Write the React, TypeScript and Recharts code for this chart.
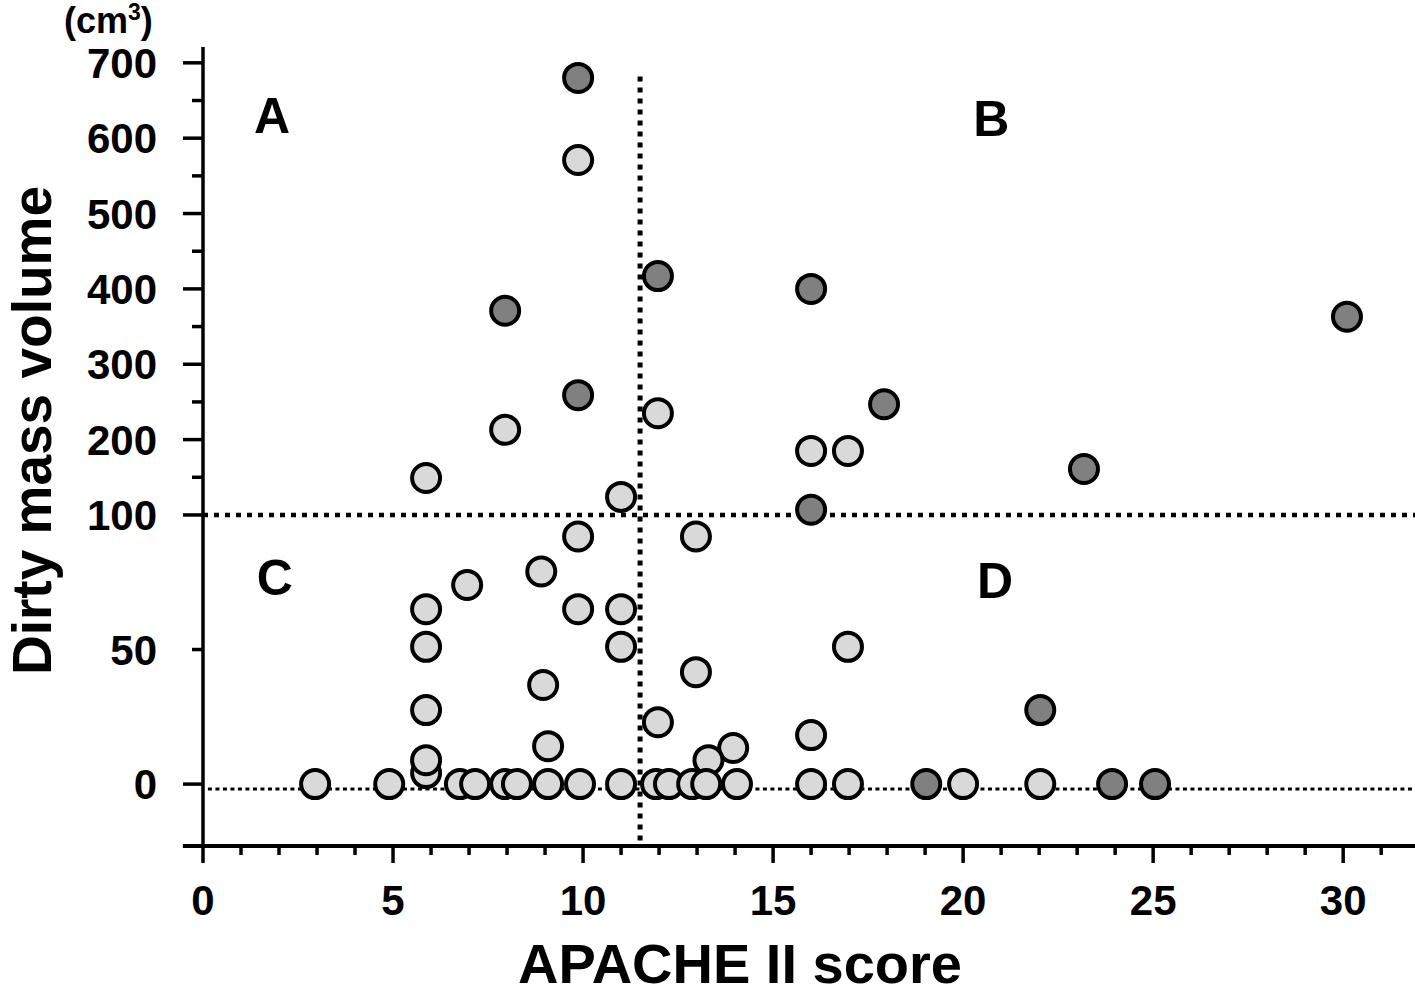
import React from 'react';
import { ScatterChart, Scatter, XAxis, YAxis, ReferenceLine, ReferenceDot, Label } from 'recharts';

// APACHE II score (x) vs dirty mass volume in cm3 (y), broken y scale above 100

// light grey patients
const lightScores = [
  9.87, 7.95, 5.87, 11.0, 11.97, 16.0, 16.97,
  9.87, 12.97, 8.9, 6.95, 5.87, 9.87, 11.0, 5.87, 11.0, 16.97, 12.97, 8.95, 5.87,
  11.97, 9.08, 13.95, 16.0, 13.3, 5.87, 5.87,
  2.95, 4.9, 6.76, 7.16, 7.95, 8.26, 9.08, 9.92, 11.0, 11.92, 12.26, 12.87, 13.24, 14.05,
  16.0, 16.97, 20.0, 22.03,
];
const lightVolumes = [
  571, 213, 149, 124, 235, 185, 185,
  92, 92, 79, 74, 65, 65, 65, 51, 51, 51, 41.6, 36.8, 27.5,
  23, 14.1, 13.4, 18.2, 8.9, 4.1, 8.9,
  0, 0, 0, 0, 0, 0, 0, 0, 0, 0, 0, 0, 0, 0,
  0, 0, 0, 0,
];

// dark grey patients
const darkScores = [9.87, 11.97, 16.0, 7.95, 9.87, 17.92, 30.1, 23.18, 16.0, 22.03, 19.03, 23.92, 25.05];
const darkVolumes = [680, 417, 400, 371, 259, 247, 363, 161, 107, 27.5, 0, 0, 0];

const xTicks = [0, 1, 2, 3, 4, 5, 6, 7, 8, 9, 10, 11, 12, 13, 14, 15, 16, 17, 18, 19, 20, 21, 22, 23, 24, 25, 26, 27, 28, 29, 30, 31];
const xLabels = [0, 5, 10, 15, 20, 25, 30];

const yTicks = [0, 50, 100, 150, 200, 250, 300, 350, 400, 450, 500, 550, 600, 650, 700];
const yLongTicks = [0, 100, 200, 300, 400, 500, 600, 700];
const yLabels = [0, 50, 100, 200, 300, 400, 500, 600, 700];

const quadrants = [
  { text: 'A', x: 1.82, v: 631 },
  { text: 'B', x: 20.74, v: 627 },
  { text: 'C', x: 1.89, v: 77 },
  { text: 'D', x: 20.84, v: 75.8 },
];

const X_MIN = 0;
const X_MAX = 31.89;
const Y_MIN = -23;
const Y_MAX = 721;
const CUTOFF_SCORE = 11.5;
const CUTOFF_VOLUME = 100;
const CUTOFF_LINE_TOP = 682;
const ZERO_LINE = -1.8;

// y axis is linear up to 100, compressed above it
const BREAK = 100;
const UPPER_RATIO = 0.28;
const toAxis = (v: number) => (v <= BREAK ? v : BREAK + (v - BREAK) * UPPER_RATIO);
const fromAxis = (t: number) => (t <= BREAK ? t : BREAK + (t - BREAK) / UPPER_RATIO);

const lightData = lightScores.map((x, i) => ({ x, y: toAxis(lightVolumes[i]) }));
const darkData = darkScores.map((x, i) => ({ x, y: toAxis(darkVolumes[i]) }));

const FONT = '"Liberation Sans", Arial, Helvetica, sans-serif';

const XTick = (props: any) => {
  const { x, y, payload } = props;
  const v = Math.round(payload.value);
  const major = xLabels.includes(v);
  return (
    <g>
      <line x1={x} x2={x} y1={y} y2={y + (major ? 17 : 9)} stroke="#000" strokeWidth={3.5} />
      {major && (
        <text x={x} y={y + 69} textAnchor="middle" fontSize={42} fontWeight="bold" fontFamily={FONT} fill="#000">
          {v}
        </text>
      )}
    </g>
  );
};

const YTick = (props: any) => {
  const { x, y, payload } = props;
  const v = Math.round(fromAxis(payload.value));
  const long = yLongTicks.includes(v);
  return (
    <g>
      <line x1={x - (long ? 20 : 11)} x2={x} y1={y} y2={y} stroke="#000" strokeWidth={3.5} />
      {yLabels.includes(v) && (
        <text x={x - 46} y={y + 15} textAnchor="end" fontSize={42} fontWeight="bold" fontFamily={FONT} fill="#000">
          {v}
        </text>
      )}
    </g>
  );
};

const circle = (fill: string) => (p: any) => (
  <circle cx={p.cx} cy={p.cy} r={14} fill={fill} stroke="#000" strokeWidth={4} />
);

export default function App() {
  return (
    <div style={{ position: 'absolute', left: 0, top: 0, width: 1415, height: 996, background: '#fff', fontFamily: FONT }}>
      <ScatterChart width={1415} height={996} margin={{ top: 47, right: 0, bottom: 0, left: 0 }}>
        <XAxis
          xAxisId="s"
          type="number"
          dataKey="x"
          domain={[X_MIN, X_MAX]}
          allowDataOverflow
          ticks={xTicks}
          interval={0}
          tick={XTick}
          tickLine={false}
          tickSize={0}
          tickMargin={0}
          height={150}
          axisLine={{ stroke: '#000', strokeWidth: 4 }}
        >
          <Label
            content={(p: any) => {
              const vb = p.viewBox;
              return (
                <text x={vb.x + vb.width / 2 - 69} y={vb.y + 137} textAnchor="middle" fontSize={56} fontWeight="bold" fontFamily={FONT} fill="#000">
                  APACHE II score
                </text>
              );
            }}
          />
        </XAxis>
        <YAxis
          yAxisId="s"
          type="number"
          dataKey="y"
          domain={[toAxis(Y_MIN), toAxis(Y_MAX)]}
          allowDataOverflow
          ticks={yTicks.map(toAxis)}
          interval={0}
          tick={YTick}
          tickLine={false}
          tickSize={0}
          tickMargin={0}
          width={203}
          axisLine={{ stroke: '#000', strokeWidth: 3.5 }}
        >
          <Label
            content={(p: any) => {
              const vb = p.viewBox;
              const cy = vb.y + vb.height / 2 - 16;
              return (
                <text x={51} y={cy} transform={`rotate(-90, 51, ${cy})`} textAnchor="middle" fontSize={55} fontWeight="bold" fontFamily={FONT} fill="#000">
                  Dirty mass volume
                </text>
              );
            }}
          />
          <Label
            content={(p: any) => {
              const vb = p.viewBox;
              return (
                <text x={vb.x + 64} y={vb.y - 14} fontSize={36} fontWeight="bold" fontFamily={FONT} fill="#000">
                  (cm<tspan dy={-13} fontSize={23}>3</tspan><tspan dy={13}>)</tspan>
                </text>
              );
            }}
          />
        </YAxis>

        <ReferenceLine
          xAxisId="s"
          yAxisId="s"
          segment={[{ x: -0.53, y: toAxis(Y_MIN) }, { x: X_MIN, y: toAxis(Y_MIN) }]}
          ifOverflow="visible"
          stroke="#000"
          strokeWidth={4}
        />
        <ReferenceLine
          xAxisId="s"
          yAxisId="s"
          segment={[{ x: 0.13, y: toAxis(ZERO_LINE) }, { x: X_MAX, y: toAxis(ZERO_LINE) }]}
          stroke="#000"
          strokeWidth={3}
          strokeDasharray="4 3.5"
        />
        <ReferenceLine
          xAxisId="s"
          yAxisId="s"
          y={toAxis(CUTOFF_VOLUME)}
          stroke="#000"
          strokeWidth={4.5}
          strokeDasharray="5 6"
        />
        <ReferenceLine
          xAxisId="s"
          yAxisId="s"
          segment={[{ x: CUTOFF_SCORE, y: toAxis(CUTOFF_LINE_TOP) }, { x: CUTOFF_SCORE, y: toAxis(Y_MIN) }]}
          stroke="#000"
          strokeWidth={5}
          strokeDasharray="5 6"
        />

        {quadrants.map((q) => (
          <ReferenceDot
            key={q.text}
            xAxisId="s"
            yAxisId="s"
            x={q.x}
            y={toAxis(q.v)}
            r={0}
            fill="none"
            stroke="none"
            label={{ value: q.text, position: 'center', fontSize: 50, fontWeight: 'bold', fill: '#000', fontFamily: FONT }}
          />
        ))}

        <Scatter xAxisId="s" yAxisId="s" data={lightData} shape={circle('#d9d9d9')} isAnimationActive={false} />
        <Scatter xAxisId="s" yAxisId="s" data={darkData} shape={circle('#808080')} isAnimationActive={false} />
      </ScatterChart>
    </div>
  );
}
